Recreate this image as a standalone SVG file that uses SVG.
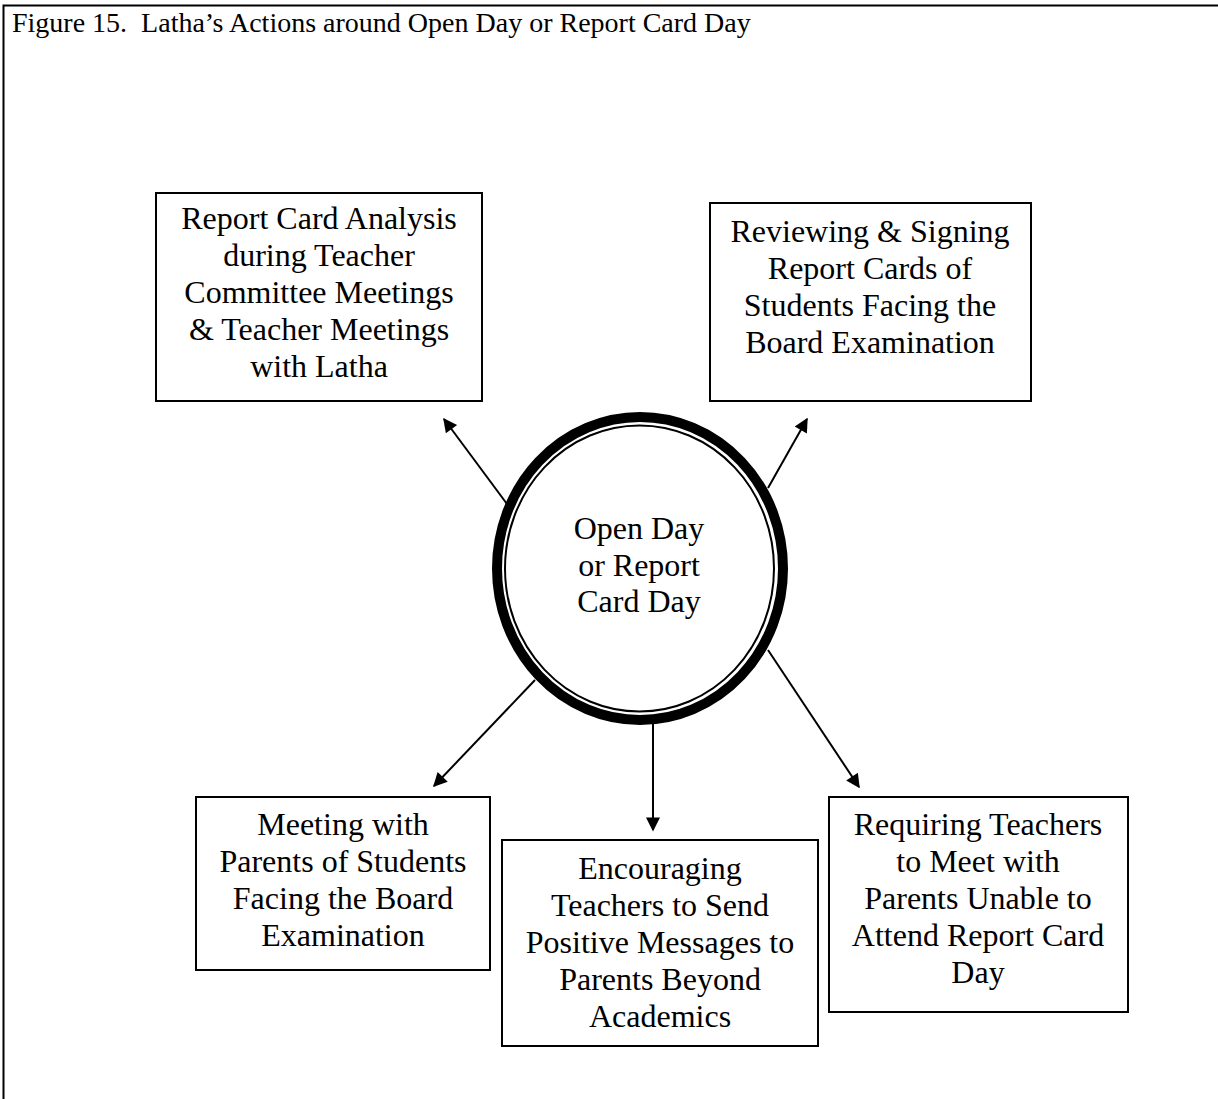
<svg xmlns="http://www.w3.org/2000/svg" width="1218" height="1099" viewBox="0 0 1218 1099">
  <style>
    .frame { fill: none; stroke: #000; stroke-width: 2; }
    .box { fill: #fff; stroke: #000; stroke-width: 2; }
    .lbl { font-family: "Liberation Serif", "Times New Roman", serif; font-size: 32px; fill: #000; text-anchor: middle; }
    .title { font-family: "Liberation Serif", "Times New Roman", serif; font-size: 28px; fill: #000; }
    .conn { stroke: #000; stroke-width: 2; fill: none; marker-end: url(#arrow); }
  </style>
  <defs>
    <marker id="arrow" viewBox="0 0 10 10" refX="9" refY="5" markerWidth="8" markerHeight="7" markerUnits="strokeWidth" orient="auto">
      <path d="M0,0 L10,5 L0,10 z" fill="#000"/>
    </marker>
  </defs>

  <rect width="1218" height="1099" fill="#fff"/>
  <!-- page frame: top and left rules -->
  <path class="frame" d="M3.5,1099 V5.5 H1218"/>

  <text class="title" x="12" y="32" xml:space="preserve">Figure 15.  Latha’s Actions around Open Day or Report Card Day</text>

  <g id="connectors">
    <line class="conn" x1="507" y1="504" x2="444" y2="419"/>
    <line class="conn" x1="768" y1="488" x2="807" y2="419"/>
    <line class="conn" x1="535" y1="680" x2="434" y2="786"/>
    <line class="conn" x1="653" y1="722" x2="653" y2="830"/>
    <line class="conn" x1="768" y1="650" x2="859" y2="787"/>
  </g>

  <g id="hub">
    <ellipse cx="640" cy="568.5" rx="143" ry="151.5" fill="#fff" stroke="#000" stroke-width="10"/>
    <ellipse cx="639.5" cy="568.5" rx="134.5" ry="143" fill="none" stroke="#000" stroke-width="2"/>
    <text class="lbl" x="639" y="539">Open Day</text>
    <text class="lbl" x="639" y="576">or Report</text>
    <text class="lbl" x="639" y="612">Card Day</text>
  </g>

  <g id="report-card-analysis">
    <rect class="box" x="156" y="193" width="326" height="208"/>
    <text class="lbl" x="319" y="229">Report Card Analysis</text>
    <text class="lbl" x="319" y="266">during Teacher</text>
    <text class="lbl" x="319" y="303">Committee Meetings</text>
    <text class="lbl" x="319" y="340">&amp; Teacher Meetings</text>
    <text class="lbl" x="319" y="377">with Latha</text>
  </g>

  <g id="reviewing-signing">
    <rect class="box" x="710" y="203" width="321" height="198"/>
    <text class="lbl" x="870" y="242">Reviewing &amp; Signing</text>
    <text class="lbl" x="870" y="279">Report Cards of</text>
    <text class="lbl" x="870" y="316">Students Facing the</text>
    <text class="lbl" x="870" y="353">Board Examination</text>
  </g>

  <g id="meeting-parents">
    <rect class="box" x="196" y="797" width="294" height="173"/>
    <text class="lbl" x="343" y="835">Meeting with</text>
    <text class="lbl" x="343" y="872">Parents of Students</text>
    <text class="lbl" x="343" y="909">Facing the Board</text>
    <text class="lbl" x="343" y="946">Examination</text>
  </g>

  <g id="positive-messages">
    <rect class="box" x="502" y="840" width="316" height="206"/>
    <text class="lbl" x="660" y="879">Encouraging</text>
    <text class="lbl" x="660" y="916">Teachers to Send</text>
    <text class="lbl" x="660" y="953">Positive Messages to</text>
    <text class="lbl" x="660" y="990">Parents Beyond</text>
    <text class="lbl" x="660" y="1027">Academics</text>
  </g>

  <g id="absent-parents">
    <rect class="box" x="829" y="797" width="299" height="215"/>
    <text class="lbl" x="978" y="835">Requiring Teachers</text>
    <text class="lbl" x="978" y="872">to Meet with</text>
    <text class="lbl" x="978" y="909">Parents Unable to</text>
    <text class="lbl" x="978" y="946">Attend Report Card</text>
    <text class="lbl" x="978" y="983">Day</text>
  </g>
</svg>
